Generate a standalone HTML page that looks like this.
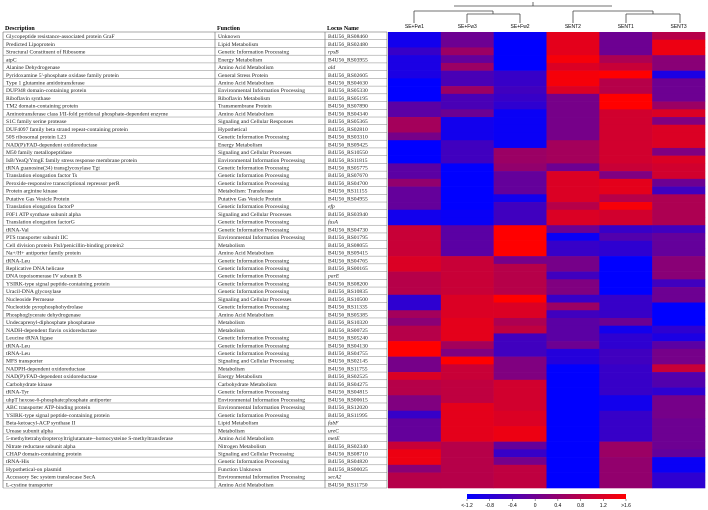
<!DOCTYPE html>
<html><head><meta charset="utf-8"><style>
html,body{margin:0;padding:0;background:#fff;}
svg{display:block;font-family:"Liberation Serif",serif;}
</style></head><body>
<svg id="chart" width="708" height="510" viewBox="0 0 708 510" xmlns="http://www.w3.org/2000/svg">
<g id="table"></g>
<g id="heat"></g>
<g id="dendro" stroke="#444" stroke-width="0.8" fill="none">
<path d="M454 6H612M533 6V2M414 11H493M414 11V23M493 11V14M467 14H520M467 14V23M520 14V23M573 11H653M573 11V23M653 11V14M626 14H680M626 14V23M680 14V23"/>
</g>
<g id="legend"></g>
</svg>
<script>
const columns=["SE+Fw1","SE+Fw3","SE+Fw2","SENT2","SENT1","SENT3"];
const descriptions=["Glycopeptide resistance-associated protein GraF","Predicted Lipoprotein","Structural Constituent of Ribosome","atpC","Alanine Dehydrogenase","Pyridoxamine 5'-phosphate oxidase family protein","Type 1 glutamine amidotransferase","DUF948 domain-containing protein","Riboflavin synthase","TM2 domain-containing protein","Aminotransferase class I/II-fold pyridoxal phosphate-dependent enzyme","S1C family serine protease","DUF4097 family beta strand repeat-containing protein","50S ribosomal protein L23","NAD(P)/FAD-dependent oxidoreductase","M50 family metallopeptidase","IsB/YeaQ/YmgE family stress response membrane protein","tRNA guanosine(34) transglycosylase Tgt","Translation elongation factor Ts","Peroxide-responsive transcriptional repressor perR","Protein arginine kinase","Putative Gas Vesicle Protein","Translation elongation factorP","F0F1 ATP synthase subunit alpha","Translation elongation factorG","tRNA-Val","PTS transporter subunit IIC","Cell division protein FtsI/penicillin-binding protein2","Na+/H+ antiporter family protein","tRNA-Leu","Replicative DNA helicase","DNA topoisomerase IV subunit B","YSIRK-type signal peptide-containing protein","Uracil-DNA glycosylase","Nucleoside Permease","Nucleotide pyrophosphohydrolase","Phosphoglycerate dehydrogenase","Undecaprenyl-diphosphate phosphatase","NADH-dependent flavin oxidoreductase","Leucine tRNA ligase","tRNA-Leu","tRNA-Leu","MFS transporter","NADPH-dependent oxidoreductase","NAD(P)/FAD-dependent oxidoreductase","Carbohydrate kinase","tRNA-Tyr","uhpT hexose-6-phosphate:phosphate antiporter","ABC transporter ATP-binding protein","YSIRK-type signal peptide-containing protein","Beta-ketoacyl-ACP synthase II","Urease subunit alpha","5-methyltetrahydropteroyltriglutamate--homocysteine S-methyltransferase","Nitrate reductase subunit alpha","CHAP domain-containing protein","tRNA-His","Hypothetical-on plasmid","Accessory Sec system translocase SecA","L-cystine transporter"];
const functions=["Unknown","Lipid Metabolism","Genetic Information Processing","Energy Metabolism","Amino Acid Metabolism","General Stress Protein","Amino Acid Metabolism","Environmental Information Processing","Riboflavin Metabolism","Transmembrane Protein","Amino Acid Metabolism","Signaling and Cellular Responses","Hypothetical","Genetic Information Processing","Energy Metabolism","Signaling and Cellular Processes","Environmental Information Processing","Genetic Information Processing","Genetic Information Processing","Genetic Information Processing","Metabolism: Transferase","Putative Gas Vesicle Protein","Genetic Information Processing","Signaling and Cellular Processes","Genetic Information Processing","Genetic Information Processing","Environmental Information Processing","Metabolism","Amino Acid Metabolism","Genetic Information Processing","Genetic Information Processing","Genetic Information Processing","Genetic Information Processing","Genetic Information Processing","Signaling and Cellular Processes","Genetic Information Processing","Amino Acid Metabolism","Metabolism","Metabolism","Genetic Information Processing","Genetic Information Processing","Genetic Information Processing","Signaling and Cellular Processing","Metabolism","Energy Metabolism","Carbohydrate Metabolism","Genetic Information Processing","Environmental Information Processing","Environmental Information Processing","Genetic Information Processing","Lipid Metabolism","Metabolism","Amino Acid Metabolism","Nitrogen Metabolism","Signaling and Cellular Processing","Genetic Information Processing","Function Unknown","Environmental Information Processing","Amino Acid Metabolism"];
const loci=["B4U56_RS08460","B4U56_RS02480","rpsB","B4U56_RS03955","ald","B4U56_RS02605","B4U56_RS04630","B4U56_RS05330","B4U56_RS05195","B4U56_RS07890","B4U56_RS04340","B4U56_RS05365","B4U56_RS02810","B4U56_RS03310","B4U56_RS09425","B4U56_RS10550","B4U56_RS11815","B4U56_RS05775","B4U56_RS07670","B4U56_RS04700","B4U56_RS11155","B4U56_RS04955","efp","B4U56_RS03940","fusA","B4U56_RS04730","B4U56_RS01795","B4U56_RS08055","B4U56_RS09415","B4U56_RS04765","B4U56_RS00165","parE","B4U56_RS08200","B4U56_RS10835","B4U56_RS10500","B4U56_RS11335","B4U56_RS05385","B4U56_RS10320","B4U56_RS00725","B4U56_RS05240","B4U56_RS04130","B4U56_RS04755","B4U56_RS02145","B4U56_RS11755","B4U56_RS02525","B4U56_RS04275","B4U56_RS04815","B4U56_RS00615","B4U56_RS12020","B4U56_RS11995","fabF","ureC","metE","B4U56_RS02340","B4U56_RS08710","B4U56_RS04820","B4U56_RS00025","secA2","B4U56_RS11750"];
const valsFw1=[-1.0,-1.0,-0.6,-0.9,-0.9,-0.9,-1.2,-1.2,-1.2,-0.2,-0.2,0.6,0.6,0.1,-1.2,-1.2,-1.2,-0.2,-0.2,0.4,-0.1,-0.1,-0.1,-1.0,-1.0,1.0,1.0,1.0,1.0,1.2,1.2,0.8,0.8,0.8,-0.7,-0.7,0.6,0.3,0.8,0.8,1.6,1.6,0.1,0.1,1.2,0.8,0.8,0.2,0.2,-0.6,-0.1,-0.1,-0.1,1.0,1.4,1.4,0.3,0.8,0.8];
const valsFw3=[0.0,0.0,0.5,-0.1,0.5,-0.4,-0.4,0.5,-0.4,-0.4,0.0,-1.0,-1.0,-1.0,-0.5,-0.5,-0.5,-1.2,-1.2,-1.2,-1.2,-1.2,-1.2,-1.1,-1.1,-0.2,-0.2,-0.2,-0.2,1.0,1.0,1.0,1.0,1.0,1.2,1.2,1.2,1.3,1.3,1.3,0.6,0.2,1.6,1.0,1.0,0.9,0.9,0.9,1.3,1.3,1.3,1.3,1.3,0.8,0.8,0.8,0.8,0.8,0.8];
const valsFw2=[-1.1,-1.2,-1.2,-1.2,-1.2,-0.6,-0.6,-0.5,-0.6,-0.7,-1.1,-1.1,-1.1,-1.1,-1.1,0.5,0.5,0.4,-0.1,-0.1,-0.1,-1.0,-0.5,-0.5,-0.5,1.6,1.6,1.6,1.6,0.1,0.8,0.8,0.8,0.8,1.6,1.2,1.2,0.7,0.9,-0.5,-0.5,-0.5,0.2,0.2,0.2,1.1,1.1,1.1,1.1,1.2,1.2,1.4,1.4,-0.1,-0.6,0.1,0.9,0.9,0.9];
const valsNT2=[1.3,1.3,1.3,1.5,1.2,1.5,1.5,1.2,0.1,0.1,0.1,0.1,0.1,0.1,0.6,0.6,0.6,0.0,1.2,1.2,1.2,1.2,0.8,1.2,1.2,0.0,-1.1,-0.6,-0.6,0.1,0.1,-0.5,0.2,0.2,-0.6,0.5,-0.5,-0.2,-0.2,-0.2,0.0,-0.8,-0.8,-1.2,-1.2,-1.2,-1.2,-1.2,-1.2,-1.2,-1.2,-1.2,-1.2,-1.2,-1.2,-1.2,-1.2,-1.2,-1.2];
const valsNT1=[0.0,0.0,0.0,0.7,1.0,1.6,0.8,0.8,1.6,1.6,1.1,1.1,1.1,1.1,1.1,1.1,1.1,1.0,0.2,1.3,1.3,0.8,1.5,1.1,1.1,-0.6,-0.3,-0.7,-0.7,-1.2,-1.2,-1.2,-1.2,-1.2,-0.6,-0.6,-0.6,0.0,-1.0,-0.7,-0.7,-0.5,-0.5,-0.6,-0.6,-0.6,-0.6,-1.0,-1.0,-0.6,-0.6,-0.6,-0.6,0.5,0.5,0.4,0.4,0.4,0.4];
const valsNT3=[0.8,1.4,1.4,0.3,0.3,-0.9,0.0,0.0,0.0,0.5,1.2,0.2,1.2,1.2,1.2,0.2,1.2,1.1,1.1,0.0,-0.5,0.7,0.7,0.7,0.7,-0.5,-0.1,-0.1,-0.1,0.3,0.3,0.3,-0.5,0.0,0.0,-1.2,-1.2,-1.2,-0.7,-0.9,-0.2,0.1,0.1,1.0,-0.3,-0.3,-0.7,0.1,0.1,0.1,0.0,0.0,0.0,0.0,-0.1,-1.1,-1.1,-0.7,-0.7];
const legendTicks=["<-1.2","-0.8","-0.4","0","0.4","0.8","1.2",">1.6"];
const legendTickVals=[-1.2,-0.8,-0.4,0,0.4,0.8,1.2,1.6];
const series=[valsFw1,valsFw3,valsFw2,valsNT2,valsNT1,valsNT3];

const NS="http://www.w3.org/2000/svg";
const top0=32, rowH=(488-32)/descriptions.length;
const hx0=388, colW=(705-388)/columns.length;
const vmin=-1.2, vmax=1.6;
function yRow(i){return top0+i*rowH;}
function xCol(j){return hx0+j*colW;}
function color(v){let t=(Math.max(vmin,Math.min(vmax,v))-vmin)/(vmax-vmin);return `rgb(${Math.round(255*t)},0,${Math.round(255*(1-t))})`;}
function mk(tag,attrs,parent,txt){const e=document.createElementNS(NS,tag);for(const k in attrs)e.setAttribute(k,attrs[k]);if(txt!==undefined)e.textContent=txt;parent.appendChild(e);return e;}

// table
const tb=document.getElementById('table');
const tx=[3,215,325,387];
let h1=mk('text',{x:5,y:30,'font-size':6,'font-weight':'bold'},tb,'Description');


let h2=mk('text',{x:217,y:30,'font-size':6,'font-weight':'bold'},tb,'Function');


let h3=mk('text',{x:327,y:30,'font-size':6,'font-weight':'bold'},tb,'Locus Name');


mk('line',{x1:3,x2:387,y1:top0,y2:top0,stroke:'#555','stroke-width':0.6},tb);
descriptions.forEach((d,i)=>{
  const y=yRow(i);
  const g=mk('g',{},tb);
  
  
  mk('line',{x1:3,x2:387,y1:y+rowH,y2:y+rowH,stroke:'#888','stroke-width':0.5},g);
  mk('text',{x:6,y:y+rowH-1.6,'font-size':5.6,fill:'#222'},g,d);
  mk('text',{x:218,y:y+rowH-1.6,'font-size':5.6,fill:'#222'},g,functions[i]);
  const it=!loci[i].startsWith('B4U56');
  mk('text',{x:328,y:y+rowH-1.6,'font-size':5.6,fill:'#222','font-style':it?'italic':'normal'},g,loci[i]);
});
tx.forEach(x=>mk('line',{x1:x,x2:x,y1:top0,y2:488,stroke:'#666','stroke-width':0.6},tb));

// heatmap
const hm=document.getElementById('heat');
series.forEach((vals,j)=>{
  vals.forEach((v,i)=>{
    const r=mk('rect',{x:xCol(j),y:yRow(i),width:colW+0.3,height:rowH+0.3,fill:color(v)},hm);
    
    
  });
  const t=mk('text',{x:xCol(j)+colW/2,y:28,'font-size':5,'text-anchor':'middle','font-family':'Liberation Sans, sans-serif'},hm,columns[j]);
  
  
});

// legend
const lg=document.getElementById('legend');
const defs=mk('defs',{},lg);
const gr=mk('linearGradient',{id:'lgGrad',x1:0,x2:1,y1:0,y2:0},defs);
mk('stop',{offset:'0','stop-color':'rgb(0,0,255)'},gr);
mk('stop',{offset:'0.5','stop-color':'rgb(128,0,128)'},gr);
mk('stop',{offset:'1','stop-color':'rgb(255,0,0)'},gr);
const lx0=467,lx1=626;
const bar=mk('rect',{x:lx0,y:494,width:lx1-lx0,height:5,fill:'url(#lgGrad)'},lg);


legendTicks.forEach((t,k)=>{
  const x=lx0+(legendTickVals[k]-vmin)/(vmax-vmin)*(lx1-lx0);
  mk('line',{x1:x,x2:x,y1:499,y2:501,stroke:'#333','stroke-width':0.5},lg);
  const e=mk('text',{x:x,y:507,'font-size':5,'text-anchor':'middle','font-family':'Liberation Sans, sans-serif'},lg,t);
  
  
});
</script>
</body></html>
